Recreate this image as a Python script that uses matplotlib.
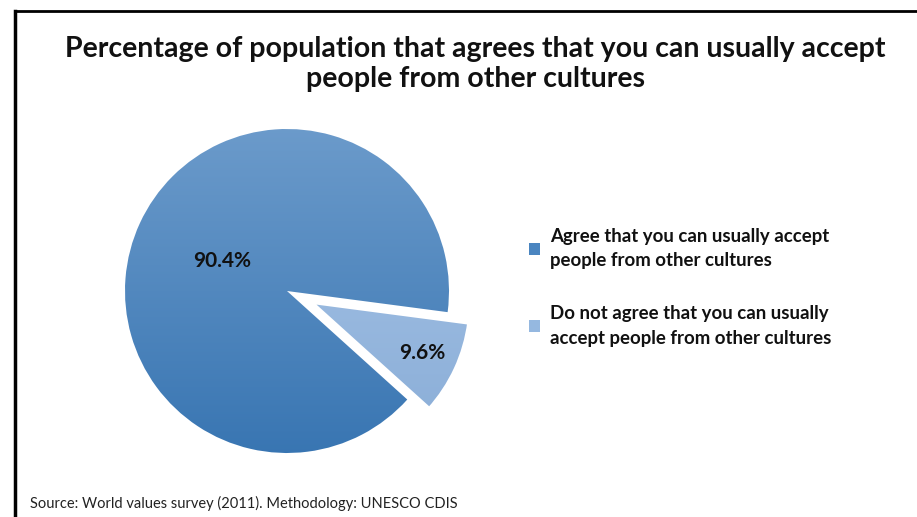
import numpy as np
import matplotlib
matplotlib.use("Agg")
import matplotlib.pyplot as plt
from matplotlib.colors import LinearSegmentedColormap

labels = ["Agree that you can usually accept\npeople from other cultures",
          "Do not agree that you can usually\naccept people from other cultures"]
values = [90.4, 9.6]
pct_labels = ["90.4%", "9.6%"]
title = "Percentage of population that agrees that you can usually accept\npeople from other cultures"
source = "Source: World values survey (2011). Methodology: UNESCO CDIS"

W, H = 917, 517
plt.rcParams["font.family"] = ["Lato", "DejaVu Sans"]

fig = plt.figure(figsize=(W / 100, H / 100), dpi=100)
ax = fig.add_axes([0, 0, 1, 1])

center = (287, H - 291)
radius = 162
# explode offset is added in data units when center/radius are given
wedges, _ = ax.pie(values, startangle=-7.5, counterclock=True, center=center, radius=radius,
                   explode=[0, 0.15 * radius], colors=["#4a85c0", "#95b8e0"])
ax.set_aspect("equal")
ax.axis("off")

# vertical gradients clipped to each wedge
grads = [("#6c9bcb", "#3875b2"), ("#a8c5e8", "#88acd6")]
for w, (top, bot) in zip(wedges, grads):
    cmap = LinearSegmentedColormap.from_list("g", [bot, top])
    cx, cy = w.center
    grad = np.linspace(0, 1, 256).reshape(-1, 1)
    im = ax.imshow(grad, cmap=cmap, origin="lower", aspect="auto",
                   extent=(cx - radius - 5, cx + radius + 5, cy - radius - 5, cy + radius + 5),
                   zorder=w.get_zorder() - 0.1)
    im.set_clip_path(w)
    w.set_facecolor("none")
wedges[1].set_edgecolor("white")
wedges[1].set_linewidth(3.5)
ax.set_xlim(0, W)
ax.set_ylim(0, H)

# percentage labels
dists = [0.44, 0.77]
for w, txt, d in zip(wedges, pct_labels, dists):
    ang = np.deg2rad((w.theta1 + w.theta2) / 2)
    cx, cy = w.center
    ax.text(cx + d * radius * np.cos(ang), cy + d * radius * np.sin(ang), txt,
            ha="center", va="center", fontsize=15, fontweight="bold", color="#111111", zorder=5)

# legend
leg = ax.legend(wedges, labels, loc="upper left", bbox_to_anchor=(512 / W, 1 - 211 / H),
                frameon=False, handlelength=0.6, handleheight=0.6,
                handletextpad=0.55, labelspacing=1.9, prop={"weight": "bold", "size": 13.4})
for h, c in zip(leg.legend_handles, ["#4a85c0", "#95b8e0"]):
    h.set_facecolor(c)
    h.set_edgecolor("none")
    h.set_linewidth(0)
for t in leg.get_texts():
    t.set_linespacing(1.55)
    t.set_color("#111111")

fig.text(475 / W, 1 - 64 / H, title, ha="center", va="center", fontsize=20.5,
         fontweight="bold", color="#111111", linespacing=1.2)
fig.text(30 / W, 1 - 503 / H, source, ha="left", va="center", fontsize=10.5, color="#222222")

# partial frame border (top and left)
ax.plot([15, W], [H - 11, H - 11], color="black", lw=2, clip_on=False)
ax.plot([15, 15], [0, H - 11], color="black", lw=2.5, clip_on=False)

fig.savefig("out.png", dpi=100, facecolor="white")
